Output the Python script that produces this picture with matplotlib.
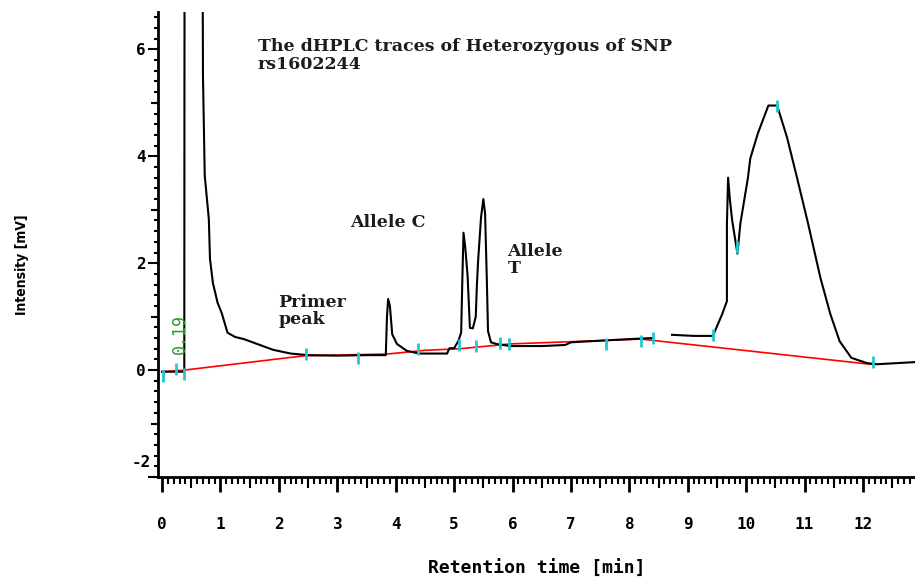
import numpy as np
import matplotlib.pyplot as plt
from matplotlib.ticker import MultipleLocator

# chromatogram trace (retention time in min, intensity in mV)
t_trace = [0.0, 0.38, 0.385, 0.69, 0.70, 0.73, 0.80, 0.82, 0.87, 0.95, 1.02, 1.12,
           1.25, 1.4, 1.6, 1.9, 2.2, 2.5, 3.0, 3.5, 3.83, 3.85, 3.87, 3.9, 3.94,
           4.02, 4.19, 4.4, 4.88, 4.92, 5.0, 5.07, 5.12, 5.14, 5.16, 5.19, 5.23,
           5.27, 5.32, 5.37, 5.39, 5.41, 5.46, 5.5, 5.53, 5.56, 5.58, 5.63, 5.72,
           5.96, 6.5, 6.9, 7.0, 7.5, 8.0, 8.4, np.nan, 8.73, 9.1, 9.43, 9.59,
           9.67, 9.67, 9.69, 9.72, 9.76, 9.85, 9.9, 10.03, 10.07, 10.2, 10.38,
           10.53, 10.7, 10.87, 11.06, 11.27, 11.44, 11.6, 11.8, 12.07, 12.24, 12.9]
i_trace = [-0.03, -0.03, 9.0, 9.0, 5.5, 3.64, 2.83, 2.08, 1.63, 1.26, 1.07, 0.70,
           0.62, 0.58, 0.5, 0.38, 0.31, 0.28, 0.27, 0.28, 0.28, 1.0, 1.33, 1.2, 0.67,
           0.49, 0.36, 0.31, 0.31, 0.41, 0.41, 0.54, 0.7, 1.67, 2.57, 2.3, 1.77,
           0.79, 0.78, 1.0, 1.6, 2.04, 2.85, 3.2, 2.93, 1.67, 0.73, 0.52, 0.49,
           0.45, 0.45, 0.47, 0.52, 0.55, 0.58, 0.6, np.nan, 0.66, 0.64, 0.64, 1.05,
           1.29, 2.74, 3.6, 3.2, 2.8, 2.18, 2.74, 3.6, 3.96, 4.43, 4.95,
           4.95, 4.35, 3.6, 2.74, 1.73, 1.05, 0.54, 0.23, 0.13, 0.11, 0.15]

# fitted baseline
t_base = [0.0, 0.38, 2.45, 3.85, 4.5, 5.1, 5.96, 8.2, 12.12, 12.2]
i_base = [-0.03, 0.0, 0.27, 0.30, 0.37, 0.40, 0.49, 0.58, 0.11, 0.11]

# peak start/end markers
t_mark = [0.02, 0.24, 0.38, 2.47, 3.36, 4.38, 5.09, 5.38, 5.79, 5.94, 7.6, 8.2,
          8.41, 9.43, 9.85, 10.53, 12.17]
i_mark = [-0.11, 0.02, -0.08, 0.30, 0.23, 0.40, 0.47, 0.45, 0.51, 0.49, 0.49, 0.54,
          0.6, 0.66, 2.3, 4.95, 0.15]

plt.rcParams['font.family'] = ['DejaVu Sans Mono']
fig = plt.figure(figsize=(9.15, 5.81), dpi=100)
ax = fig.add_axes([158/915, 1-477/581, 757/915, 465/581])

ax.plot(t_base, i_base, color='red', lw=1.2, zorder=2)
ax.plot(t_trace, i_trace, color='black', lw=1.5, zorder=3)
ax.plot(t_mark, i_mark, ls='none', marker='|', ms=9, mew=2, color='#22c8d2', zorder=4)

ax.set_xlim(-0.07, 12.89)
ax.set_ylim(-2.0, 6.7)

for s in ['top', 'right']:
    ax.spines[s].set_visible(False)
for s in ['left', 'bottom']:
    ax.spines[s].set_linewidth(2)

ax.xaxis.set_major_locator(MultipleLocator(1))
ax.xaxis.set_minor_locator(MultipleLocator(0.1))
ax.yaxis.set_major_locator(MultipleLocator(2))
ax.yaxis.set_minor_locator(MultipleLocator(0.2))
ax.tick_params(axis='x', which='major', length=11, width=2, pad=18, labelsize=11.5)
ax.tick_params(axis='x', which='minor', length=5, width=1.5)
ax.tick_params(axis='y', which='major', length=7, width=1.5, pad=2, labelsize=11.5)
ax.tick_params(axis='y', which='minor', length=3, width=1.5)
ax.set_yticks([-2, 0, 2, 4, 6])
ax.set_yticklabels(['', '0', '2', '4', '6'], fontweight='bold')
ax.set_xticklabels([str(v) for v in range(-1, 14)], fontweight='bold')
ax.text(-0.2, -1.72, '-2', ha='right', va='center', fontsize=11.5, fontweight='bold')

# half-minute and odd-mV ticks
sx = ax.secondary_xaxis('bottom')
sx.set_xticks(np.arange(0.5, 13, 1.0))
sx.tick_params(length=8, width=1.5, labelbottom=False)
sx.spines['bottom'].set_visible(False)
sy = ax.secondary_yaxis('left')
sy.set_yticks([-1, 1, 3, 5])
sy.tick_params(length=5, width=1.5, labelleft=False)
sy.spines['left'].set_visible(False)

ax.set_xlabel('Retention time [min]', fontsize=13, fontweight='bold', labelpad=20)
fig.text(22/915, 1-265/581, 'Intensity [mV]', rotation=90, ha='center', va='center',
         fontsize=10, fontweight='bold', family='DejaVu Sans', stretch='condensed')

serif = dict(family='DejaVu Serif', fontweight='bold', color='#1c1c1c')
ax.text(1.64, 6.21, 'The dHPLC traces of Heterozygous of SNP\nrs1602244', va='top',
        fontsize=12.5, linespacing=1.1, **serif)
ax.text(3.22, 2.76, 'Allele C', va='center', fontsize=12.5, **serif)
ax.text(5.91, 2.38, 'Allele\nT', va='top', fontsize=12.5, linespacing=1.0, **serif)
ax.text(1.99, 1.43, 'Primer\npeak', va='top', fontsize=12.5, linespacing=1.0, **serif)
ax.text(0.31, 0.68, '0.19', rotation=90, ha='center', va='center', fontsize=12,
        color='#2a9a2a')

fig.savefig('out.png', dpi=100)
